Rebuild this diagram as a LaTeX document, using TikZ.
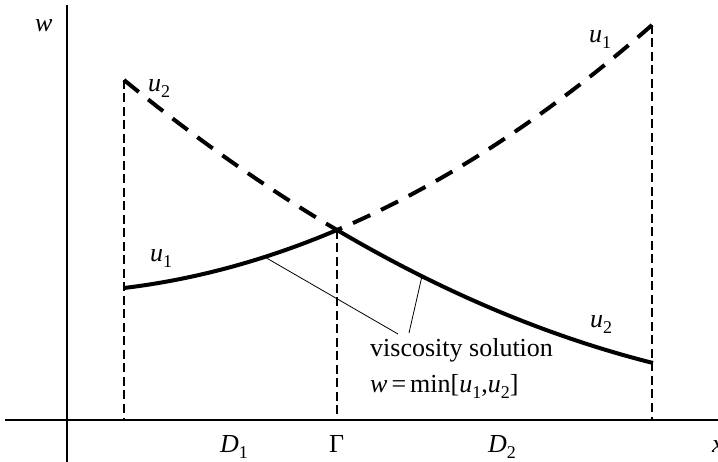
\documentclass[tikz,border=0pt]{standalone}
\usepackage{fontspec}
\setmainfont{Liberation Serif}
\newcommand\sbs[1]{\raisebox{-6pt}{\fontsize{18}{18}\selectfont #1}}
\newcommand\vi[1]{\textit{#1}}
\begin{document}
\begin{tikzpicture}[x=1pt,y=-1pt,font=\fontsize{26}{35}\selectfont,
  axis/.style={line width=1.8pt},
  guide/.style={line width=1.4pt,dash pattern=on 9pt off 4.5pt},
  thickcurve/.style={line width=4pt},
  thickdash/.style={line width=4pt,dash pattern=on 19pt off 12pt},
  leader/.style={line width=0.8pt},
  lbl/.style={inner sep=0pt,anchor=base west}]
\useasboundingbox (0,0) rectangle (718,462);
% axes
\coordinate (ytop) at (67,5);
\coordinate (ybot) at (67,462);
\coordinate (xl) at (5,420);
\coordinate (xr) at (718,420);
\draw[axis] (ytop) -- (ybot);
\draw[axis] (xl) -- (xr);
% key points
\coordinate (A2) at (124,80);
\coordinate (B2) at (653,363);
\coordinate (A1) at (124,288);
\coordinate (B1) at (652,25);
\coordinate (G) at (337,230);
\coordinate (F1) at (124,420);
\coordinate (FG) at (337,420);
\coordinate (F2) at (652,420);
% guides
\draw[guide] (A2) -- (F1);
\draw[guide] (G) -- (FG);
\draw[guide] (B1) -- (F2);
% curves
\begin{scope}
  \clip (0,0) rectangle (337,462);
  \draw[thickcurve] (A1) .. controls (300.1,266.9) and (476.1,179.3) .. (B1);
  \draw[thickdash] (A2) .. controls (300.3,224.3) and (476.7,318.6) .. (B2);
\end{scope}
\begin{scope}
  \clip (337,0) rectangle (718,462);
  \draw[thickdash] (B1) .. controls (476.1,179.3) and (300.1,266.9) .. (A1);
  \draw[thickcurve] (A2) .. controls (300.3,224.3) and (476.7,318.6) .. (B2);
\end{scope}
% labels
\node[lbl] (lw) at (35,32) {\vi{w}};
\node[lbl] (lu2a) at (148,92) {\vi{u}\sbs{2}};
\node[lbl] (lu1a) at (589,43) {\vi{u}\sbs{1}};
\node[lbl] (lu1b) at (150,262) {\vi{u}\sbs{1}};
\node[lbl] (lu2b) at (590,328) {\vi{u}\sbs{2}};
\node[lbl] (lD1) at (220,452) {\vi{D}\sbs{1}};
\node[lbl] (lG) at (329,452) {Γ};
\node[lbl] (lD2) at (488,452) {\vi{D}\sbs{2}};
\node[lbl] (lx) at (712,452) {\vi{x}};
% annotation
\node[lbl] (vs) at (370,357) {viscosity solution};
\node[lbl] (eq) at (370,392) {\vi{w}\hspace{4pt}=\hspace{4pt}min[\vi{u}\sbs{1},\vi{u}\sbs{2}]};
\coordinate (P1) at (263,256);
\coordinate (P2) at (422,276);
\coordinate (E1) at (398,334);
\coordinate (E2) at (409,333);
\draw[leader] (P1) -- (E1);
\draw[leader] (P2) -- (E2);
\end{tikzpicture}
\end{document}
